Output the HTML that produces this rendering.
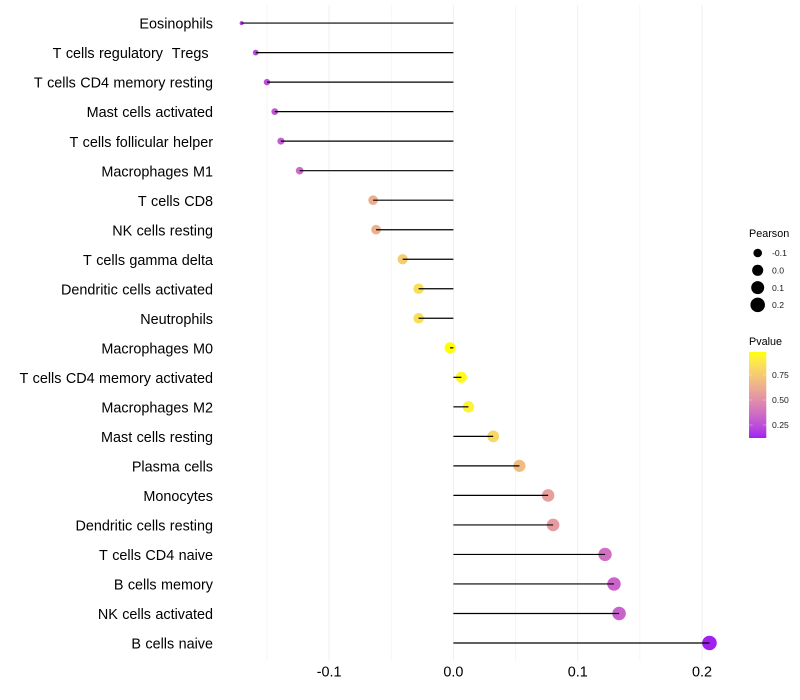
<!DOCTYPE html>
<html>
<head>
<meta charset="utf-8">
<title>Immune cell correlation lollipop chart</title>
<style>
html,body{margin:0;padding:0;background:#fff;width:800px;height:700px;overflow:hidden}
svg{display:block}
text{font-family:"Liberation Sans",Arial,sans-serif;white-space:pre;font-kerning:none}
</style>
</head>
<body>
<svg id="chart" width="800" height="700" viewBox="0 0 800 700" xmlns="http://www.w3.org/2000/svg">
<defs><linearGradient id="pgrad" x1="0" y1="0" x2="0" y2="1"></linearGradient></defs>
</svg>
<script>
const categories = ["Eosinophils","T cells regulatory  Tregs ","T cells CD4 memory resting","Mast cells activated","T cells follicular helper","Macrophages M1","T cells CD8","NK cells resting","T cells gamma delta","Dendritic cells activated","Neutrophils","Macrophages M0","T cells CD4 memory activated","Macrophages M2","Mast cells resting","Plasma cells","Monocytes","Dendritic cells resting","T cells CD4 naive","B cells memory","NK cells activated","B cells naive"];
const pearson = [-0.1704,-0.159,-0.15,-0.1437,-0.1388,-0.1237,-0.0646,-0.0622,-0.0408,-0.028,-0.028,-0.0027,0.0064,0.0121,0.032,0.0531,0.0762,0.0802,0.122,0.1292,0.1333,0.206];
const pvalue = [0.20,0.23,0.26,0.28,0.30,0.36,0.63,0.64,0.76,0.84,0.84,0.98,0.96,0.93,0.81,0.69,0.57,0.55,0.37,0.33,0.32,0.12];
const xMajorTicks = [-0.1,0,0.1,0.2];
const xMajorLabels = ["-0.1","0.0","0.1","0.2"];
const xMinorTicks = [-0.15,-0.05,0.05,0.15];
const sizeLegendValues = [-0.1,0,0.1,0.2];
const sizeLegendLabels = ["-0.1","0.0","0.1","0.2"];
const colorLegendValues = [0.75,0.5,0.25];
const colorLegendLabels = ["0.75","0.50","0.25"];
const pDomain = [0.12,0.98];
const sizeDomain = [-0.1704,0.206];

const svg = document.getElementById('chart');
const NS = 'http://www.w3.org/2000/svg';
const panelTop = 5, panelBottom = 661;

function xScale(v){ return 453.4 + v * 1243; }
function yScale(i){ return 23.08 + i * 29.52; }
function rScale(v){
  const t = (v - sizeDomain[0]) / (sizeDomain[1] - sizeDomain[0]);
  const size = 1 + 5 * Math.sqrt(Math.max(0, t));
  return 1.067 * size + 0.9;
}
function pY(p){ return 400 - (p - 0.5) * 100; }

function toLab(rgb){
  const l = rgb.map(c => { c /= 255; return c > 0.04045 ? Math.pow((c + 0.055) / 1.055, 2.4) : c / 12.92; });
  const X = (0.4124 * l[0] + 0.3576 * l[1] + 0.1805 * l[2]) / 0.95047;
  const Y = 0.2126 * l[0] + 0.7152 * l[1] + 0.0722 * l[2];
  const Z = (0.0193 * l[0] + 0.1192 * l[1] + 0.9505 * l[2]) / 1.08883;
  const f = t => t > 0.008856 ? Math.cbrt(t) : 7.787 * t + 16 / 116;
  return [116 * f(Y) - 16, 500 * (f(X) - f(Y)), 200 * (f(Y) - f(Z))];
}
function fromLab(lab){
  const fy = (lab[0] + 16) / 116, fx = fy + lab[1] / 500, fz = fy - lab[2] / 200;
  const g = t => t * t * t > 0.008856 ? t * t * t : (t - 16 / 116) / 7.787;
  const X = g(fx) * 0.95047, Y = g(fy), Z = g(fz) * 1.08883;
  const l = [3.2406 * X - 1.5372 * Y - 0.4986 * Z, -0.9689 * X + 1.8758 * Y + 0.0415 * Z, 0.0557 * X - 0.204 * Y + 1.057 * Z];
  const c = l.map(v => { v = Math.max(0, Math.min(1, v)); return Math.round(255 * (v > 0.0031308 ? 1.055 * Math.pow(v, 1 / 2.4) - 0.055 : 12.92 * v)); });
  return 'rgb(' + c.join(',') + ')';
}
const labLow = toLab([160, 32, 240]);
const labHigh = toLab([255, 255, 0]);
function colorScale(p){
  const t = Math.max(0, Math.min(1, (p - pDomain[0]) / (pDomain[1] - pDomain[0])));
  return fromLab(labLow.map((a, k) => a + (labHigh[k] - a) * t));
}
function make(tag, attrs, parent){
  const el = document.createElementNS(NS, tag);
  for (const k in attrs) el.setAttribute(k, attrs[k]);
  (parent || svg).appendChild(el);
  return el;
}

/* gridlines */
xMinorTicks.forEach(v => {
  const el = make('line', {x1: xScale(v), x2: xScale(v), y1: panelTop, y2: panelBottom, stroke: '#f3f3f3', 'stroke-width': 0.8});
  
  
});
xMajorTicks.forEach(v => {
  const el = make('line', {x1: xScale(v), x2: xScale(v), y1: panelTop, y2: panelBottom, stroke: '#f0f0f0', 'stroke-width': 1.07});
  
  
});

/* points, then stems on top */
pearson.forEach((v, i) => {
  const dot = make('circle', {cx: xScale(v), cy: yScale(i), r: rScale(v), fill: colorScale(pvalue[i])});
  
  
});
pearson.forEach((v, i) => {
  const stem = make('line', {x1: xScale(0), x2: xScale(v), y1: yScale(i), y2: yScale(i), stroke: '#000', 'stroke-width': 1.2});
  
  
});

/* y-axis labels */
categories.forEach((c, i) => {
  const t = make('text', {x: 213, y: yScale(i) + 5.6, 'text-anchor': 'end', 'font-size': 14.4, 'word-spacing': 0.4, fill: '#000'});
  t.textContent = c;
  
  
});

/* x-axis labels */
xMajorTicks.forEach((v, i) => {
  const t = make('text', {x: xScale(v), y: 676.5, 'text-anchor': 'middle', 'font-size': 14.4, fill: '#000'});
  t.textContent = xMajorLabels[i];
  
  
});

/* size legend */
const sizeTitle = make('text', {x: 749, y: 237, 'font-size': 10.8, fill: '#000'});
sizeTitle.textContent = 'Pearson';


sizeLegendValues.forEach((v, i) => {
  const cy = 253 + i * 17.3;
  const dot = make('circle', {cx: 757.7, cy: cy, r: rScale(v), fill: '#000'});
  
  
  const t = make('text', {x: 772, y: cy + 3.2, 'font-size': 8.64, fill: '#1a1a1a'});
  t.textContent = sizeLegendLabels[i];
  
  
});

/* color legend */
const colorTitle = make('text', {x: 749, y: 345, 'font-size': 10.8, fill: '#000'});
colorTitle.textContent = 'Pvalue';


const grad = document.getElementById('pgrad');
for (let s = 0; s <= 40; s++) {
  const p = pDomain[1] - (pDomain[1] - pDomain[0]) * s / 40;
  make('stop', {offset: s / 40, 'stop-color': colorScale(p)}, grad);
}
const barTop = pY(pDomain[1]), barBottom = pY(pDomain[0]);
const bar = make('rect', {x: 749, y: barTop, width: 17.3, height: barBottom - barTop, fill: 'url(#pgrad)'});


colorLegendValues.forEach((p, i) => {
  const y = pY(p);
  const left = make('line', {x1: 749, x2: 752.5, y1: y, y2: y, stroke: '#fff', 'stroke-opacity': 0.6, 'stroke-width': 0.55});
  
  
  const right = make('line', {x1: 762.8, x2: 766.3, y1: y, y2: y, stroke: '#fff', 'stroke-opacity': 0.6, 'stroke-width': 0.55});
  
  
  const t = make('text', {x: 772, y: y + 3.2, 'font-size': 8.64, fill: '#1a1a1a'});
  t.textContent = colorLegendLabels[i];
  
  
});
</script>
</body>
</html>
